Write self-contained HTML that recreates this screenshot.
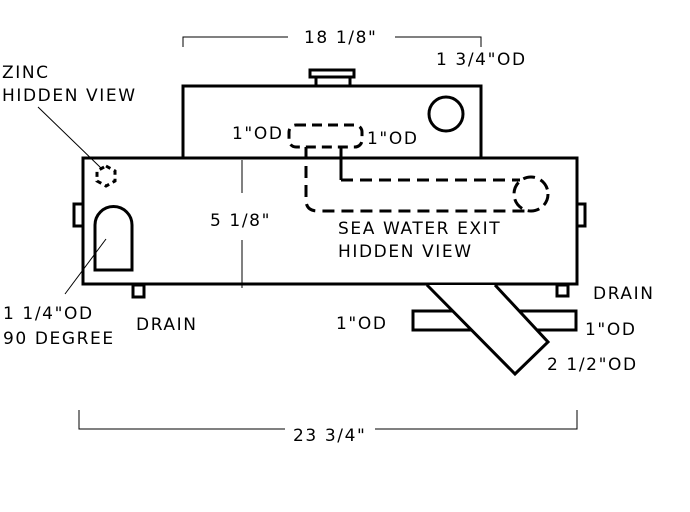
<!DOCTYPE html>
<html><head><style>
html,body{margin:0;padding:0;background:#fff;}
svg{display:block;}
text{font-family:"DejaVu Sans","Liberation Sans",sans-serif;font-size:17px;letter-spacing:1.6px;fill:#000;}
</style></head><body>
<svg width="690" height="512" viewBox="0 0 690 512" xmlns="http://www.w3.org/2000/svg">
<g fill="none" stroke="#000">
 <polyline points="183,47 183,37 288,37" stroke-width="1"/>
 <polyline points="395,37 481,37 481,47" stroke-width="1"/>
 <polyline points="79,410 79,429 285,429" stroke-width="1"/>
 <polyline points="375,429 577,429 577,410" stroke-width="1"/>
 <line x1="242" y1="160" x2="242" y2="193" stroke-width="1"/>
 <line x1="242" y1="240" x2="242" y2="288" stroke-width="1"/>
 <line x1="38" y1="107" x2="101" y2="168" stroke-width="1"/>
 <line x1="106" y1="239" x2="65" y2="294" stroke-width="1"/>
 <rect x="183" y="86" width="298" height="72" stroke-width="3" fill="#fff"/>
 <rect x="310" y="70" width="44" height="7" stroke-width="3" fill="#fff"/>
 <rect x="316" y="77" width="34" height="9" stroke-width="3" fill="#fff"/>
 <circle cx="446" cy="114" r="17" stroke-width="3"/>
 <rect x="83" y="158" width="494" height="126" stroke-width="3"/>
 <rect x="74" y="204" width="9" height="22" stroke-width="3" fill="#fff"/>
 <rect x="577" y="204" width="8" height="22" stroke-width="3" fill="#fff"/>
 <rect x="133" y="285" width="11" height="12" stroke-width="3"/>
 <rect x="557" y="285" width="11" height="11" stroke-width="3"/>
 <path d="M95,270 V225 A18.5,18.5 0 0 1 132,225 V270 Z" stroke-width="3"/>
 <polygon points="106,166 115,171 115,181 106,186 97,181 97,171" stroke-width="3" stroke-dasharray="5,4"/>
 <rect x="289" y="125" width="73" height="22" rx="7" stroke-width="3" stroke-dasharray="10,6"/>
 <line x1="341" y1="147" x2="341" y2="180" stroke-width="3"/>
 <line x1="341" y1="180" x2="520" y2="180" stroke-width="3" stroke-dasharray="12,7"/>
 <path d="M306,147 V200 Q306,211 318,211 H527" stroke-width="3" stroke-dasharray="12,7"/>
 <circle cx="531" cy="194" r="17" stroke-width="3" stroke-dasharray="12,6"/>
 <rect x="413" y="311" width="163" height="19" stroke-width="3"/>
 <polygon points="427,285 495,285 548,342 515,374" stroke-width="3" fill="#fff" stroke="none"/>
 <polyline points="427,285 515,374 548,342 495,285" stroke-width="3"/>
</g>
<text x="304" y="43">18 1/8"</text>
<text x="436" y="65">1 3/4"OD</text>
<text x="2" y="78">ZINC</text>
<text x="2" y="101">HIDDEN VIEW</text>
<text x="232" y="139">1"OD</text>
<text x="367" y="144">1"OD</text>
<text x="210" y="226">5 1/8"</text>
<text x="338" y="234">SEA WATER EXIT</text>
<text x="338" y="257">HIDDEN VIEW</text>
<text x="593" y="299">DRAIN</text>
<text x="3" y="319">1 1/4"OD</text>
<text x="3" y="344">90 DEGREE</text>
<text x="136" y="330">DRAIN</text>
<text x="336" y="329">1"OD</text>
<text x="585" y="335">1"OD</text>
<text x="547" y="370">2 1/2"OD</text>
<text x="293" y="441">23 3/4"</text>
</svg>
</body></html>
